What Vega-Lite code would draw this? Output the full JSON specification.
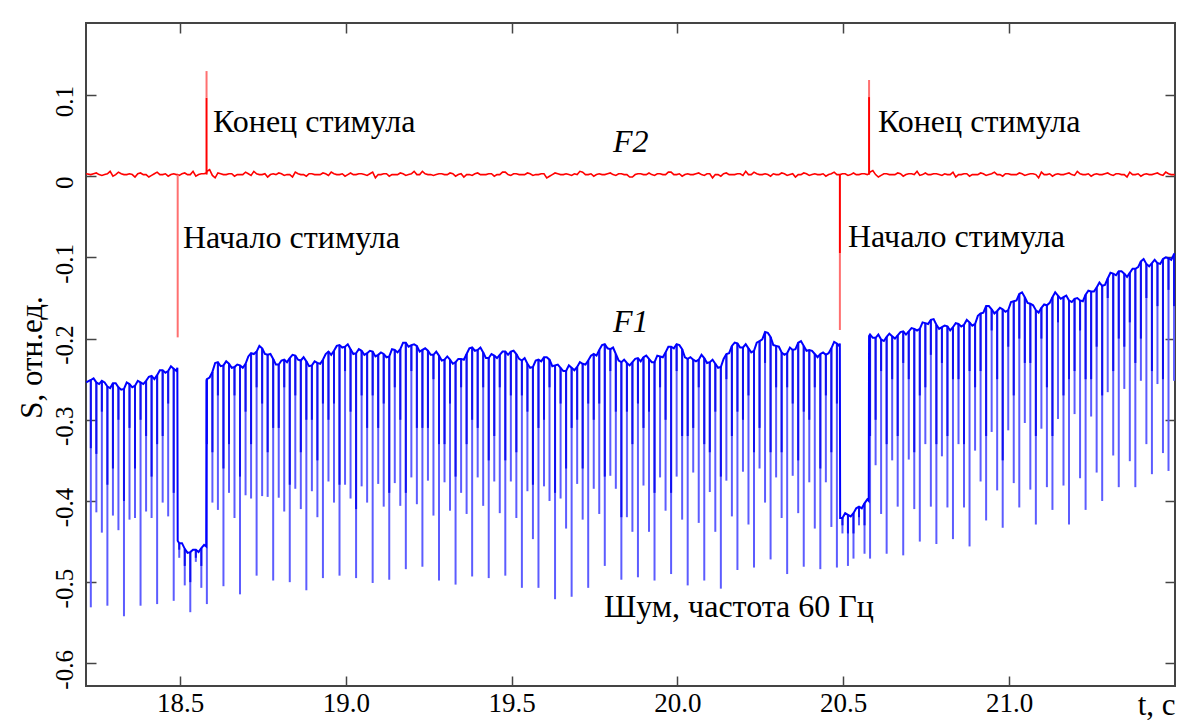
{
"$schema": "https://vega.github.io/schema/vega-lite/v6.json",
"width": 1089, "height": 663,
"autosize": {"type": "none"},
"padding": {"left": 86, "top": 23, "right": 7, "bottom": 34},
"background": "white",
"config": {"view": {"stroke": "#444444", "strokeWidth": 2}, "font": "Liberation Serif", "locale": {"number": {"decimal": ".", "thousands": ",", "grouping": [3], "currency": ["", ""], "minus": "-"}}},
"datasets": {
"f1": [
{"t":18.2170,"b":-0.254,"f2":0.003},
{"t":18.2310,"b":-0.251,"lo":-0.531,"m":-0.335,"f2":0.002},
{"t":18.2477,"b":-0.254,"lo":-0.414,"m":-0.342,"f2":0.004},
{"t":18.2643,"b":-0.252,"lo":-0.439,"m":-0.29,"f2":0.001},
{"t":18.2810,"b":-0.259,"lo":-0.529,"m":-0.38,"f2":0.003},
{"t":18.2977,"b":-0.255,"lo":-0.418,"m":-0.36,"f2":0.000},
{"t":18.3143,"b":-0.260,"lo":-0.436,"m":-0.30,"f2":0.005},
{"t":18.3310,"b":-0.262,"lo":-0.542,"m":-0.40,"f2":0.002},
{"t":18.3477,"b":-0.256,"lo":-0.423,"m":-0.31,"f2":0.003},
{"t":18.3643,"b":-0.258,"lo":-0.421,"m":-0.36,"f2":-0.001},
{"t":18.3810,"b":-0.254,"lo":-0.529,"m":-0.30,"f2":0.004},
{"t":18.3977,"b":-0.252,"lo":-0.413,"m":-0.32,"f2":0.002},
{"t":18.4143,"b":-0.246,"lo":-0.421,"m":-0.37,"f2":0.001},
{"t":18.4310,"b":-0.245,"lo":-0.527,"m":-0.33,"f2":0.005},
{"t":18.4477,"b":-0.239,"lo":-0.402,"m":-0.32,"f2":0.002},
{"t":18.4643,"b":-0.240,"lo":-0.419,"m":-0.28,"f2":0.000},
{"t":18.4810,"b":-0.237,"lo":-0.523,"m":-0.39,"f2":0.003},
{"t":18.4920,"b":-0.236,"f2":0.002},
{"t":18.4930,"b":-0.449,"f2":0.002},
{"t":18.4977,"b":-0.452,"lo":-0.470,"m":-0.46,"f2":0.001},
{"t":18.5143,"b":-0.459,"lo":-0.504,"m":-0.48,"f2":0.004},
{"t":18.5310,"b":-0.463,"lo":-0.537,"m":-0.50,"f2":0.002},
{"t":18.5477,"b":-0.460,"lo":-0.475,"m":-0.47,"f2":0.000},
{"t":18.5643,"b":-0.458,"lo":-0.507,"m":-0.48,"f2":0.003},
{"t":18.5790,"b":-0.456,"f2":0.004},
{"t":18.5800,"b":-0.252,"f2":0.004},
{"t":18.5810,"b":-0.250,"lo":-0.527,"m":-0.33,"f2":0.006},
{"t":18.5977,"b":-0.241,"lo":-0.402,"m":-0.34,"f2":0.001},
{"t":18.6143,"b":-0.229,"lo":-0.411,"m":-0.27,"f2":0.004},
{"t":18.6310,"b":-0.233,"lo":-0.505,"m":-0.36,"f2":0.002},
{"t":18.6477,"b":-0.231,"lo":-0.390,"m":-0.33,"f2":0.003},
{"t":18.6643,"b":-0.235,"lo":-0.421,"m":-0.27,"f2":0.000},
{"t":18.6810,"b":-0.233,"lo":-0.515,"m":-0.37,"f2":0.002},
{"t":18.6977,"b":-0.231,"lo":-0.393,"m":-0.29,"f2":0.005},
{"t":18.7143,"b":-0.218,"lo":-0.397,"m":-0.33,"f2":0.001},
{"t":18.7310,"b":-0.216,"lo":-0.492,"m":-0.26,"f2":0.003},
{"t":18.7477,"b":-0.212,"lo":-0.394,"m":-0.28,"f2":0.002},
{"t":18.7643,"b":-0.220,"lo":-0.395,"m":-0.34,"f2":-0.001},
{"t":18.7810,"b":-0.225,"lo":-0.498,"m":-0.31,"f2":0.003},
{"t":18.7977,"b":-0.232,"lo":-0.396,"m":-0.31,"f2":0.004},
{"t":18.8143,"b":-0.226,"lo":-0.413,"m":-0.26,"f2":0.001},
{"t":18.8310,"b":-0.224,"lo":-0.500,"m":-0.38,"f2":0.002},
{"t":18.8477,"b":-0.221,"lo":-0.385,"m":-0.27,"f2":0.005},
{"t":18.8643,"b":-0.227,"lo":-0.410,"m":-0.34,"f2":0.002},
{"t":18.8810,"b":-0.228,"lo":-0.510,"m":-0.30,"f2":0.000},
{"t":18.8977,"b":-0.233,"lo":-0.388,"m":-0.30,"f2":0.003},
{"t":18.9143,"b":-0.230,"lo":-0.420,"m":-0.35,"f2":0.002},
{"t":18.9310,"b":-0.226,"lo":-0.495,"m":-0.28,"f2":0.004},
{"t":18.9477,"b":-0.216,"lo":-0.376,"m":-0.30,"f2":0.001},
{"t":18.9643,"b":-0.215,"lo":-0.402,"m":-0.28,"f2":0.003},
{"t":18.9810,"b":-0.208,"lo":-0.492,"m":-0.38,"f2":0.002},
{"t":18.9977,"b":-0.210,"lo":-0.380,"m":-0.24,"f2":0.000},
{"t":19.0143,"b":-0.213,"lo":-0.397,"m":-0.29,"f2":0.004},
{"t":19.0310,"b":-0.218,"lo":-0.495,"m":-0.41,"f2":0.002},
{"t":19.0477,"b":-0.215,"lo":-0.382,"m":-0.27,"f2":0.003},
{"t":19.0643,"b":-0.218,"lo":-0.402,"m":-0.31,"f2":0.001},
{"t":19.0810,"b":-0.216,"lo":-0.501,"m":-0.27,"f2":0.005},
{"t":19.0977,"b":-0.220,"lo":-0.379,"m":-0.31,"f2":0.002},
{"t":19.1143,"b":-0.219,"lo":-0.407,"m":-0.28,"f2":0.003},
{"t":19.1310,"b":-0.222,"lo":-0.497,"m":-0.39,"f2":0.000},
{"t":19.1477,"b":-0.214,"lo":-0.378,"m":-0.26,"f2":0.002},
{"t":19.1643,"b":-0.213,"lo":-0.406,"m":-0.30,"f2":0.004},
{"t":19.1810,"b":-0.205,"lo":-0.484,"m":-0.39,"f2":0.001},
{"t":19.1977,"b":-0.208,"lo":-0.371,"m":-0.24,"f2":0.003},
{"t":19.2143,"b":-0.209,"lo":-0.404,"m":-0.31,"f2":0.002},
{"t":19.2310,"b":-0.214,"lo":-0.481,"m":-0.31,"f2":0.006},
{"t":19.2477,"b":-0.215,"lo":-0.375,"m":-0.31,"f2":0.002},
{"t":19.2643,"b":-0.220,"lo":-0.418,"m":-0.25,"f2":0.001},
{"t":19.2810,"b":-0.221,"lo":-0.498,"m":-0.33,"f2":0.003},
{"t":19.2977,"b":-0.226,"lo":-0.377,"m":-0.33,"f2":0.002},
{"t":19.3143,"b":-0.226,"lo":-0.412,"m":-0.28,"f2":0.004},
{"t":19.3310,"b":-0.229,"lo":-0.503,"m":-0.37,"f2":0.000},
{"t":19.3477,"b":-0.225,"lo":-0.390,"m":-0.26,"f2":0.003},
{"t":19.3643,"b":-0.219,"lo":-0.416,"m":-0.33,"f2":0.002},
{"t":19.3810,"b":-0.211,"lo":-0.493,"m":-0.30,"f2":0.001},
{"t":19.3977,"b":-0.214,"lo":-0.371,"m":-0.31,"f2":0.004},
{"t":19.4143,"b":-0.217,"lo":-0.406,"m":-0.26,"f2":0.002},
{"t":19.4310,"b":-0.224,"lo":-0.495,"m":-0.35,"f2":0.003},
{"t":19.4477,"b":-0.221,"lo":-0.376,"m":-0.32,"f2":0.000},
{"t":19.4643,"b":-0.220,"lo":-0.415,"m":-0.26,"f2":0.002},
{"t":19.4810,"b":-0.216,"lo":-0.492,"m":-0.35,"f2":0.005},
{"t":19.4977,"b":-0.216,"lo":-0.376,"m":-0.27,"f2":0.001},
{"t":19.5143,"b":-0.219,"lo":-0.421,"m":-0.34,"f2":0.003},
{"t":19.5310,"b":-0.227,"lo":-0.507,"m":-0.27,"f2":0.002},
{"t":19.5477,"b":-0.231,"lo":-0.388,"m":-0.29,"f2":0.004},
{"t":19.5643,"b":-0.235,"lo":-0.447,"m":-0.38,"f2":0.001},
{"t":19.5810,"b":-0.226,"lo":-0.507,"m":-0.31,"f2":0.002},
{"t":19.5977,"b":-0.223,"lo":-0.382,"m":-0.30,"f2":0.003},
{"t":19.6143,"b":-0.226,"lo":-0.400,"m":-0.26,"f2":0.000},
{"t":19.6310,"b":-0.233,"lo":-0.521,"m":-0.39,"f2":0.004},
{"t":19.6477,"b":-0.236,"lo":-0.397,"m":-0.28,"f2":0.002},
{"t":19.6643,"b":-0.240,"lo":-0.434,"m":-0.36,"f2":0.003},
{"t":19.6810,"b":-0.236,"lo":-0.518,"m":-0.31,"f2":0.001},
{"t":19.6977,"b":-0.235,"lo":-0.379,"m":-0.30,"f2":0.002},
{"t":19.7143,"b":-0.231,"lo":-0.423,"m":-0.36,"f2":0.005},
{"t":19.7310,"b":-0.227,"lo":-0.507,"m":-0.28,"f2":0.002},
{"t":19.7477,"b":-0.219,"lo":-0.385,"m":-0.30,"f2":0.000},
{"t":19.7643,"b":-0.214,"lo":-0.416,"m":-0.28,"f2":0.003},
{"t":19.7810,"b":-0.207,"lo":-0.480,"m":-0.37,"f2":0.002},
{"t":19.7977,"b":-0.213,"lo":-0.369,"m":-0.24,"f2":0.004},
{"t":19.8143,"b":-0.219,"lo":-0.385,"m":-0.29,"f2":0.001},
{"t":19.8310,"b":-0.229,"lo":-0.497,"m":-0.42,"f2":0.003},
{"t":19.8477,"b":-0.230,"lo":-0.420,"m":-0.29,"f2":0.002},
{"t":19.8643,"b":-0.229,"lo":-0.438,"m":-0.33,"f2":-0.001},
{"t":19.8810,"b":-0.224,"lo":-0.494,"m":-0.28,"f2":0.003},
{"t":19.8977,"b":-0.223,"lo":-0.381,"m":-0.31,"f2":0.002},
{"t":19.9143,"b":-0.225,"lo":-0.438,"m":-0.29,"f2":0.004},
{"t":19.9310,"b":-0.229,"lo":-0.498,"m":-0.39,"f2":0.001},
{"t":19.9477,"b":-0.222,"lo":-0.371,"m":-0.26,"f2":0.003},
{"t":19.9643,"b":-0.217,"lo":-0.412,"m":-0.30,"f2":0.002},
{"t":19.9810,"b":-0.210,"lo":-0.490,"m":-0.39,"f2":0.005},
{"t":19.9977,"b":-0.207,"lo":-0.370,"m":-0.24,"f2":0.002},
{"t":20.0143,"b":-0.213,"lo":-0.423,"m":-0.32,"f2":0.000},
{"t":20.0310,"b":-0.225,"lo":-0.504,"m":-0.32,"f2":0.003},
{"t":20.0477,"b":-0.226,"lo":-0.365,"m":-0.31,"f2":0.002},
{"t":20.0643,"b":-0.226,"lo":-0.427,"m":-0.26,"f2":0.004},
{"t":20.0810,"b":-0.224,"lo":-0.498,"m":-0.33,"f2":0.001},
{"t":20.0977,"b":-0.229,"lo":-0.389,"m":-0.34,"f2":0.003},
{"t":20.1143,"b":-0.231,"lo":-0.438,"m":-0.29,"f2":0.002},
{"t":20.1310,"b":-0.235,"lo":-0.508,"m":-0.37,"f2":0.000},
{"t":20.1477,"b":-0.219,"lo":-0.375,"m":-0.25,"f2":0.004},
{"t":20.1643,"b":-0.209,"lo":-0.419,"m":-0.32,"f2":0.002},
{"t":20.1810,"b":-0.206,"lo":-0.485,"m":-0.29,"f2":0.003},
{"t":20.1977,"b":-0.211,"lo":-0.364,"m":-0.30,"f2":0.001},
{"t":20.2143,"b":-0.212,"lo":-0.429,"m":-0.27,"f2":0.002},
{"t":20.2310,"b":-0.215,"lo":-0.482,"m":-0.34,"f2":0.005},
{"t":20.2477,"b":-0.203,"lo":-0.360,"m":-0.31,"f2":0.002},
{"t":20.2643,"b":-0.192,"lo":-0.402,"m":-0.23,"f2":0.003},
{"t":20.2810,"b":-0.198,"lo":-0.472,"m":-0.34,"f2":0.000},
{"t":20.2977,"b":-0.209,"lo":-0.371,"m":-0.26,"f2":0.002},
{"t":20.3143,"b":-0.217,"lo":-0.421,"m":-0.34,"f2":0.004},
{"t":20.3310,"b":-0.218,"lo":-0.490,"m":-0.26,"f2":0.001},
{"t":20.3477,"b":-0.214,"lo":-0.369,"m":-0.28,"f2":0.003},
{"t":20.3643,"b":-0.205,"lo":-0.415,"m":-0.35,"f2":0.002},
{"t":20.3810,"b":-0.209,"lo":-0.481,"m":-0.29,"f2":0.004},
{"t":20.3977,"b":-0.214,"lo":-0.377,"m":-0.30,"f2":0.001},
{"t":20.4143,"b":-0.219,"lo":-0.434,"m":-0.26,"f2":0.003},
{"t":20.4310,"b":-0.219,"lo":-0.484,"m":-0.36,"f2":0.002},
{"t":20.4477,"b":-0.220,"lo":-0.377,"m":-0.27,"f2":0.000},
{"t":20.4643,"b":-0.212,"lo":-0.432,"m":-0.34,"f2":0.003},
{"t":20.4810,"b":-0.206,"lo":-0.482,"m":-0.28,"f2":0.002},
{"t":20.4898,"b":-0.206,"f2":0.002},
{"t":20.4908,"b":-0.421,"f2":0.002},
{"t":20.4977,"b":-0.421,"lo":-0.440,"m":-0.43,"f2":0.003},
{"t":20.5143,"b":-0.417,"lo":-0.480,"m":-0.44,"f2":0.001},
{"t":20.5310,"b":-0.415,"lo":-0.471,"m":-0.44,"f2":0.004},
{"t":20.5477,"b":-0.407,"lo":-0.430,"m":-0.42,"f2":0.002},
{"t":20.5643,"b":-0.403,"lo":-0.465,"m":-0.43,"f2":0.003},
{"t":20.5770,"b":-0.400,"f2":0.003},
{"t":20.5780,"b":-0.197,"f2":0.003},
{"t":20.5810,"b":-0.195,"lo":-0.471,"m":-0.32,"f2":0.005},
{"t":20.5977,"b":-0.199,"lo":-0.356,"m":-0.30,"f2":0.002},
{"t":20.6143,"b":-0.201,"lo":-0.416,"m":-0.24,"f2":0.001},
{"t":20.6310,"b":-0.198,"lo":-0.465,"m":-0.33,"f2":0.003},
{"t":20.6477,"b":-0.197,"lo":-0.350,"m":-0.25,"f2":0.002},
{"t":20.6643,"b":-0.196,"lo":-0.407,"m":-0.32,"f2":0.004},
{"t":20.6810,"b":-0.191,"lo":-0.467,"m":-0.23,"f2":0.000},
{"t":20.6977,"b":-0.191,"lo":-0.349,"m":-0.25,"f2":0.003},
{"t":20.7143,"b":-0.188,"lo":-0.410,"m":-0.34,"f2":0.002},
{"t":20.7310,"b":-0.188,"lo":-0.450,"m":-0.27,"f2":0.001},
{"t":20.7477,"b":-0.181,"lo":-0.330,"m":-0.26,"f2":0.004},
{"t":20.7643,"b":-0.177,"lo":-0.407,"m":-0.22,"f2":0.002},
{"t":20.7810,"b":-0.183,"lo":-0.453,"m":-0.33,"f2":0.003},
{"t":20.7977,"b":-0.186,"lo":-0.345,"m":-0.23,"f2":0.001},
{"t":20.8143,"b":-0.185,"lo":-0.408,"m":-0.32,"f2":0.002},
{"t":20.8310,"b":-0.186,"lo":-0.447,"m":-0.25,"f2":0.005},
{"t":20.8477,"b":-0.182,"lo":-0.330,"m":-0.25,"f2":0.002},
{"t":20.8643,"b":-0.183,"lo":-0.408,"m":-0.33,"f2":0.003},
{"t":20.8810,"b":-0.180,"lo":-0.456,"m":-0.24,"f2":0.000},
{"t":20.8977,"b":-0.182,"lo":-0.338,"m":-0.26,"f2":0.002},
{"t":20.9143,"b":-0.169,"lo":-0.376,"m":-0.24,"f2":0.004},
{"t":20.9310,"b":-0.160,"lo":-0.424,"m":-0.32,"f2":0.001},
{"t":20.9477,"b":-0.164,"lo":-0.315,"m":-0.19,"f2":0.003},
{"t":20.9643,"b":-0.166,"lo":-0.387,"m":-0.25,"f2":0.002},
{"t":20.9810,"b":-0.164,"lo":-0.433,"m":-0.35,"f2":0.000},
{"t":20.9977,"b":-0.165,"lo":-0.313,"m":-0.21,"f2":0.003},
{"t":21.0143,"b":-0.154,"lo":-0.378,"m":-0.27,"f2":0.002},
{"t":21.0310,"b":-0.145,"lo":-0.408,"m":-0.20,"f2":0.004},
{"t":21.0477,"b":-0.149,"lo":-0.304,"m":-0.23,"f2":0.001},
{"t":21.0643,"b":-0.157,"lo":-0.386,"m":-0.23,"f2":0.003},
{"t":21.0810,"b":-0.165,"lo":-0.429,"m":-0.32,"f2":0.002},
{"t":21.0977,"b":-0.162,"lo":-0.311,"m":-0.20,"f2":0.005},
{"t":21.1143,"b":-0.159,"lo":-0.383,"m":-0.26,"f2":0.002},
{"t":21.1310,"b":-0.149,"lo":-0.411,"m":-0.32,"f2":0.000},
{"t":21.1477,"b":-0.147,"lo":-0.299,"m":-0.18,"f2":0.003},
{"t":21.1643,"b":-0.149,"lo":-0.381,"m":-0.27,"f2":0.002},
{"t":21.1810,"b":-0.153,"lo":-0.429,"m":-0.25,"f2":0.004},
{"t":21.1977,"b":-0.151,"lo":-0.293,"m":-0.24,"f2":0.001},
{"t":21.2143,"b":-0.153,"lo":-0.372,"m":-0.19,"f2":0.003},
{"t":21.2310,"b":-0.146,"lo":-0.411,"m":-0.25,"f2":0.002},
{"t":21.2477,"b":-0.142,"lo":-0.296,"m":-0.25,"f2":0.000},
{"t":21.2643,"b":-0.137,"lo":-0.365,"m":-0.21,"f2":0.003},
{"t":21.2810,"b":-0.135,"lo":-0.400,"m":-0.27,"f2":0.002},
{"t":21.2977,"b":-0.126,"lo":-0.266,"m":-0.15,"f2":0.004},
{"t":21.3143,"b":-0.120,"lo":-0.344,"m":-0.24,"f2":0.001},
{"t":21.3310,"b":-0.117,"lo":-0.383,"m":-0.20,"f2":0.003},
{"t":21.3477,"b":-0.120,"lo":-0.262,"m":-0.21,"f2":0.002},
{"t":21.3643,"b":-0.119,"lo":-0.351,"m":-0.18,"f2":0.005},
{"t":21.3810,"b":-0.114,"lo":-0.383,"m":-0.23,"f2":0.002},
{"t":21.3977,"b":-0.105,"lo":-0.252,"m":-0.20,"f2":0.000},
{"t":21.4143,"b":-0.108,"lo":-0.330,"m":-0.15,"f2":0.003},
{"t":21.4310,"b":-0.107,"lo":-0.367,"m":-0.24,"f2":0.002},
{"t":21.4477,"b":-0.107,"lo":-0.256,"m":-0.16,"f2":0.004},
{"t":21.4643,"b":-0.102,"lo":-0.341,"m":-0.25,"f2":0.001},
{"t":21.4810,"b":-0.101,"lo":-0.363,"m":-0.14,"f2":0.003},
{"t":21.4977,"b":-0.096,"lo":-0.252,"m":-0.16,"f2":0.002},
{"t":21.5000,"b":-0.095,"f2":0.002},
{"t":18.2393,"b":-0.249,"f2":0.003},{"t":18.2560,"b":-0.256,"f2":0.002},{"t":18.2727,"b":-0.254,"f2":0.002},{"t":18.2893,"b":-0.261,"f2":0.006},{"t":18.3060,"b":-0.255,"f2":0.002},{"t":18.3227,"b":-0.263,"f2":0.003},
{"t":18.3393,"b":-0.254,"f2":0.002},{"t":18.3560,"b":-0.260,"f2":0.002},{"t":18.3727,"b":-0.252,"f2":0.003},{"t":18.3893,"b":-0.256,"f2":0.002},{"t":18.4060,"b":-0.247,"f2":-0.001},{"t":18.4227,"b":-0.250,"f2":0.003},
{"t":18.4393,"b":-0.239,"f2":0.002},{"t":18.4560,"b":-0.242,"f2":0.003},{"t":18.4727,"b":-0.234,"f2":0.002},{"t":18.4893,"b":-0.240,"f2":0.002},{"t":18.5060,"b":-0.452,"f2":0.003},{"t":18.5227,"b":-0.464,"f2":0.002},
{"t":18.5393,"b":-0.460,"f2":0.006},{"t":18.5560,"b":-0.463,"f2":0.002},{"t":18.5727,"b":-0.454,"f2":0.003},{"t":18.5893,"b":-0.248,"f2":0.008},{"t":18.6060,"b":-0.230,"f2":-0.002},{"t":18.6227,"b":-0.234,"f2":0.003},
{"t":18.6393,"b":-0.228,"f2":0.002},{"t":18.6560,"b":-0.236,"f2":0.003},{"t":18.6727,"b":-0.232,"f2":0.002},{"t":18.6893,"b":-0.236,"f2":0.002},{"t":18.7060,"b":-0.222,"f2":0.003},{"t":18.7227,"b":-0.219,"f2":0.006},
{"t":18.7393,"b":-0.209,"f2":0.002},{"t":18.7560,"b":-0.219,"f2":0.003},{"t":18.7727,"b":-0.219,"f2":0.002},{"t":18.7893,"b":-0.232,"f2":0.002},{"t":18.8060,"b":-0.227,"f2":0.003},{"t":18.8227,"b":-0.229,"f2":0.002},
{"t":18.8393,"b":-0.220,"f2":-0.001},{"t":18.8560,"b":-0.226,"f2":0.003},{"t":18.8727,"b":-0.223,"f2":0.002},{"t":18.8893,"b":-0.234,"f2":0.003},{"t":18.9060,"b":-0.228,"f2":0.002},{"t":18.9227,"b":-0.231,"f2":0.002},
{"t":18.9393,"b":-0.219,"f2":0.003},{"t":18.9560,"b":-0.220,"f2":0.005},{"t":18.9727,"b":-0.209,"f2":0.002},{"t":18.9893,"b":-0.211,"f2":0.003},{"t":19.0060,"b":-0.207,"f2":0.002},{"t":19.0227,"b":-0.219,"f2":0.002},
{"t":19.0393,"b":-0.213,"f2":0.003},{"t":19.0560,"b":-0.220,"f2":0.002},{"t":19.0727,"b":-0.215,"f2":0.003},{"t":19.0893,"b":-0.222,"f2":-0.002},{"t":19.1060,"b":-0.217,"f2":0.002},{"t":19.1227,"b":-0.223,"f2":0.003},
{"t":19.1393,"b":-0.213,"f2":0.002},{"t":19.1560,"b":-0.217,"f2":0.002},{"t":19.1727,"b":-0.205,"f2":0.003},{"t":19.1893,"b":-0.210,"f2":0.002},{"t":19.2060,"b":-0.207,"f2":0.006},{"t":19.2227,"b":-0.216,"f2":0.002},
{"t":19.2393,"b":-0.212,"f2":0.003},{"t":19.2560,"b":-0.220,"f2":0.002},{"t":19.2727,"b":-0.216,"f2":0.002},{"t":19.2893,"b":-0.227,"f2":0.003},{"t":19.3060,"b":-0.222,"f2":0.002},{"t":19.3227,"b":-0.231,"f2":0.003},
{"t":19.3393,"b":-0.225,"f2":0.002},{"t":19.3560,"b":-0.226,"f2":-0.001},{"t":19.3727,"b":-0.212,"f2":0.002},{"t":19.3893,"b":-0.215,"f2":0.003},{"t":19.4060,"b":-0.211,"f2":0.002},{"t":19.4227,"b":-0.224,"f2":0.002},
{"t":19.4393,"b":-0.219,"f2":0.003},{"t":19.4560,"b":-0.224,"f2":0.002},{"t":19.4727,"b":-0.216,"f2":0.005},{"t":19.4893,"b":-0.220,"f2":0.002},{"t":19.5060,"b":-0.215,"f2":0.003},{"t":19.5227,"b":-0.225,"f2":0.002},
{"t":19.5393,"b":-0.224,"f2":0.002},{"t":19.5560,"b":-0.236,"f2":0.003},{"t":19.5727,"b":-0.227,"f2":0.002},{"t":19.5893,"b":-0.228,"f2":0.003},{"t":19.6060,"b":-0.223,"f2":-0.002},{"t":19.6227,"b":-0.234,"f2":0.002},
{"t":19.6393,"b":-0.232,"f2":0.003},{"t":19.6560,"b":-0.240,"f2":0.002},{"t":19.6727,"b":-0.233,"f2":0.002},{"t":19.6893,"b":-0.239,"f2":0.003},{"t":19.7060,"b":-0.229,"f2":0.006},{"t":19.7227,"b":-0.232,"f2":0.002},
{"t":19.7393,"b":-0.221,"f2":0.003},{"t":19.7560,"b":-0.221,"f2":0.002},{"t":19.7727,"b":-0.208,"f2":0.002},{"t":19.7893,"b":-0.212,"f2":0.003},{"t":19.8060,"b":-0.211,"f2":0.002},{"t":19.8227,"b":-0.227,"f2":0.003},
{"t":19.8393,"b":-0.226,"f2":0.002},{"t":19.8560,"b":-0.233,"f2":-0.001},{"t":19.8727,"b":-0.225,"f2":0.002},{"t":19.8893,"b":-0.228,"f2":0.003},{"t":19.9060,"b":-0.221,"f2":0.002},{"t":19.9227,"b":-0.229,"f2":0.002},
{"t":19.9393,"b":-0.221,"f2":0.003},{"t":19.9560,"b":-0.223,"f2":0.002},{"t":19.9727,"b":-0.210,"f2":0.005},{"t":19.9893,"b":-0.212,"f2":0.002},{"t":20.0060,"b":-0.208,"f2":0.003},{"t":20.0227,"b":-0.223,"f2":0.002},
{"t":20.0393,"b":-0.223,"f2":0.002},{"t":20.0560,"b":-0.228,"f2":0.003},{"t":20.0727,"b":-0.220,"f2":0.002},{"t":20.0893,"b":-0.230,"f2":0.003},{"t":20.1060,"b":-0.226,"f2":-0.002},{"t":20.1227,"b":-0.236,"f2":0.002},
{"t":20.1393,"b":-0.225,"f2":0.003},{"t":20.1560,"b":-0.218,"f2":0.002},{"t":20.1727,"b":-0.205,"f2":0.002},{"t":20.1893,"b":-0.211,"f2":0.003},{"t":20.2060,"b":-0.207,"f2":0.006},{"t":20.2227,"b":-0.217,"f2":0.002},
{"t":20.2393,"b":-0.205,"f2":0.003},{"t":20.2560,"b":-0.201,"f2":0.002},{"t":20.2727,"b":-0.193,"f2":0.002},{"t":20.2893,"b":-0.208,"f2":0.003},{"t":20.3060,"b":-0.210,"f2":0.002},{"t":20.3227,"b":-0.220,"f2":0.003},
{"t":20.3393,"b":-0.211,"f2":0.002},{"t":20.3560,"b":-0.213,"f2":-0.001},{"t":20.3727,"b":-0.203,"f2":0.002},{"t":20.3893,"b":-0.215,"f2":0.003},{"t":20.4060,"b":-0.215,"f2":0.002},{"t":20.4227,"b":-0.223,"f2":0.002},
{"t":20.4393,"b":-0.217,"f2":0.003},{"t":20.4560,"b":-0.218,"f2":0.002},{"t":20.4727,"b":-0.204,"f2":0.005},{"t":20.4880,"b":-0.209,"f2":0.002},{"t":20.5060,"b":-0.415,"f2":0.003},{"t":20.5227,"b":-0.419,"f2":0.002},
{"t":20.5393,"b":-0.409,"f2":0.002},{"t":20.5560,"b":-0.409,"f2":0.003},{"t":20.5727,"b":-0.398,"f2":0.002},{"t":20.5893,"b":-0.199,"f2":0.007},{"t":20.6060,"b":-0.195,"f2":-0.001},{"t":20.6227,"b":-0.203,"f2":0.003},
{"t":20.6393,"b":-0.194,"f2":0.002},{"t":20.6560,"b":-0.200,"f2":0.002},{"t":20.6727,"b":-0.192,"f2":0.003},{"t":20.6893,"b":-0.195,"f2":0.002},{"t":20.7060,"b":-0.187,"f2":0.003},{"t":20.7227,"b":-0.190,"f2":0.006},
{"t":20.7393,"b":-0.180,"f2":0.002},{"t":20.7560,"b":-0.182,"f2":0.002},{"t":20.7727,"b":-0.176,"f2":0.003},{"t":20.7893,"b":-0.188,"f2":0.002},{"t":20.8060,"b":-0.184,"f2":0.003},{"t":20.8227,"b":-0.190,"f2":0.002},
{"t":20.8393,"b":-0.181,"f2":-0.001},{"t":20.8560,"b":-0.185,"f2":0.002},{"t":20.8727,"b":-0.177,"f2":0.003},{"t":20.8893,"b":-0.184,"f2":0.002},{"t":20.9060,"b":-0.172,"f2":0.002},{"t":20.9227,"b":-0.168,"f2":0.003},
{"t":20.9393,"b":-0.160,"f2":0.002},{"t":20.9560,"b":-0.169,"f2":0.005},{"t":20.9727,"b":-0.162,"f2":0.002},{"t":20.9893,"b":-0.167,"f2":0.003},{"t":21.0060,"b":-0.155,"f2":0.002},{"t":21.0227,"b":-0.153,"f2":0.002},
{"t":21.0393,"b":-0.143,"f2":0.003},{"t":21.0560,"b":-0.156,"f2":0.002},{"t":21.0727,"b":-0.159,"f2":0.003},{"t":21.0893,"b":-0.168,"f2":-0.002},{"t":21.1060,"b":-0.158,"f2":0.002},{"t":21.1227,"b":-0.156,"f2":0.003},
{"t":21.1393,"b":-0.143,"f2":0.002},{"t":21.1560,"b":-0.151,"f2":0.002},{"t":21.1727,"b":-0.147,"f2":0.003},{"t":21.1893,"b":-0.155,"f2":0.002},{"t":21.2060,"b":-0.150,"f2":0.006},{"t":21.2227,"b":-0.154,"f2":0.002},
{"t":21.2393,"b":-0.141,"f2":0.003},{"t":21.2560,"b":-0.142,"f2":0.002},{"t":21.2727,"b":-0.131,"f2":0.002},{"t":21.2893,"b":-0.134,"f2":0.003},{"t":21.3060,"b":-0.119,"f2":0.002},{"t":21.3227,"b":-0.122,"f2":0.003},
{"t":21.3393,"b":-0.117,"f2":0.002},{"t":21.3560,"b":-0.124,"f2":-0.001},{"t":21.3727,"b":-0.114,"f2":0.002},{"t":21.3893,"b":-0.112,"f2":0.003},{"t":21.4060,"b":-0.102,"f2":0.002},{"t":21.4227,"b":-0.111,"f2":0.002},
{"t":21.4393,"b":-0.103,"f2":0.003},{"t":21.4560,"b":-0.108,"f2":0.002},{"t":21.4727,"b":-0.100,"f2":0.005},{"t":21.4893,"b":-0.103,"f2":0.002}
],
"f2spikes": [
{"t":18.493,"v0":0.002,"v1":-0.1985,"part":"tip"},
{"t":18.580,"v0":0.002,"v1":0.0966,"part":"core"},
{"t":18.580,"v0":0.0966,"v1":0.1295,"part":"tip"},
{"t":20.490,"v0":0.002,"v1":-0.0946,"part":"core"},
{"t":20.490,"v0":-0.0946,"v1":-0.1894,"part":"tip"},
{"t":20.578,"v0":0.002,"v1":0.0975,"part":"core"},
{"t":20.578,"v0":0.0975,"v1":0.1185,"part":"tip"}
],
"notes": [
{"t":18.5995,"v":0.0668,"txt":"Конец стимула","s":"n"},
{"t":20.6049,"v":0.0668,"txt":"Конец стимула","s":"n"},
{"t":18.509,"v":-0.0761,"txt":"Начало стимула","s":"n"},
{"t":20.5145,"v":-0.0749,"txt":"Начало стимула","s":"n"},
{"t":19.7786,"v":-0.5306,"txt":"Шум, частота 60 Гц","s":"n"},
{"t":19.8058,"v":0.0421,"txt":"F2","s":"i"},
{"t":19.8058,"v":-0.1796,"txt":"F1","s":"i"}
]
},
"layer": [
{
"data": {"name": "f1"},
"transform": [{"filter": "isValid(datum.lo)"}],
"mark": {"type": "rule", "color": "#5c5cff", "strokeWidth": 2},
"encoding": {
"x": {"field": "t", "type": "quantitative", "scale": {"domain": [18.2165, 21.5006], "nice": false, "zero": false},
"axis": {"orient": "bottom", "values": [18.5, 19, 19.5, 20, 20.5, 21], "format": ".1f", "grid": false, "domain": false, "tickSize": -10, "tickColor": "#444444", "tickWidth": 1.5, "labelFont": "Liberation Serif", "labelFontSize": 27, "labelColor": "black", "labelPadding": 14, "title": "t, c", "titleFont": "Liberation Serif", "titleFontSize": 31, "titleFontWeight": "normal", "titleColor": "black", "titleAlign": "right", "titleBaseline": "middle", "titleX": 1089, "titleY": 19}},
"y": {"field": "b", "type": "quantitative", "scale": {"domain": [-0.6279, 0.1887], "nice": false, "zero": false},
"axis": {"orient": "left", "values": [-0.6, -0.5, -0.4, -0.3, -0.2, -0.1, 0, 0.1], "format": ".1~f", "grid": false, "domain": false, "tickSize": -10, "tickColor": "#444444", "tickWidth": 1.5, "labelFont": "Liberation Serif", "labelFontSize": 25, "labelColor": "black", "labelAngle": -90, "labelAlign": "center", "labelBaseline": "alphabetic", "labelPadding": 24, "labelOffset": 6, "title": "S, отн.ед.", "titleFont": "Liberation Serif", "titleFontSize": 31, "titleFontWeight": "normal", "titleColor": "black", "titleAngle": -90, "titleAlign": "center", "titleBaseline": "middle", "titleX": -54, "titleY": 334}},
"y2": {"field": "lo"}
}
},
{
"data": {"name": "f1"},
"transform": [{"filter": "isValid(datum.m)"}],
"mark": {"type": "rule", "color": "#1010f0", "strokeWidth": 2},
"encoding": {
"x": {"field": "t", "type": "quantitative", "axis": null},
"y": {"field": "b", "type": "quantitative", "axis": null},
"y2": {"field": "m"}
}
},
{
"data": {"name": "f1"},
"mark": {"type": "line", "color": "#0000ff", "strokeWidth": 2},
"encoding": {
"x": {"field": "t", "type": "quantitative", "axis": null},
"y": {"field": "b", "type": "quantitative", "axis": null}
}
},
{
"data": {"name": "f1"},
"mark": {"type": "line", "color": "#ff0000", "strokeWidth": 1.6},
"encoding": {
"x": {"field": "t", "type": "quantitative", "axis": null},
"y": {"field": "f2", "type": "quantitative", "axis": null}
}
},
{
"data": {"name": "f2spikes"},
"mark": {"type": "rule", "strokeWidth": 2},
"encoding": {
"x": {"field": "t", "type": "quantitative", "axis": null},
"y": {"field": "v0", "type": "quantitative", "axis": null},
"y2": {"field": "v1"},
"color": {"field": "part", "type": "nominal", "scale": {"domain": ["core", "tip"], "range": ["#ff0000", "#ff7070"]}, "legend": null}
}
},
{
"data": {"name": "notes"},
"transform": [{"filter": "datum.s === 'n'"}],
"mark": {"type": "text", "align": "left", "baseline": "middle", "font": "Liberation Serif", "fontSize": 32, "color": "black"},
"encoding": {
"x": {"field": "t", "type": "quantitative", "axis": null},
"y": {"field": "v", "type": "quantitative", "axis": null},
"text": {"field": "txt"}
}
},
{
"data": {"name": "notes"},
"transform": [{"filter": "datum.s === 'i'"}],
"mark": {"type": "text", "align": "left", "baseline": "middle", "font": "Liberation Serif", "fontSize": 32, "fontStyle": "italic", "color": "black"},
"encoding": {
"x": {"field": "t", "type": "quantitative", "axis": null},
"y": {"field": "v", "type": "quantitative", "axis": null},
"text": {"field": "txt"}
}
},
{
"data": {"name": "f1"},
"mark": {"type": "point", "opacity": 0},
"encoding": {
"x": {"field": "t", "type": "quantitative", "axis": {"orient": "top", "values": [18.5, 19, 19.5, 20, 20.5, 21], "labels": false, "grid": false, "domain": false, "tickSize": -10, "tickColor": "#444444", "tickWidth": 1.5, "title": null}},
"y": {"field": "b", "type": "quantitative", "axis": {"orient": "right", "values": [-0.6, -0.5, -0.4, -0.3, -0.2, -0.1, 0, 0.1], "labels": false, "grid": false, "domain": false, "tickSize": -10, "tickColor": "#444444", "tickWidth": 1.5, "title": null}}
}
}
],
"resolve": {"axis": {"x": "independent", "y": "independent"}}
}
